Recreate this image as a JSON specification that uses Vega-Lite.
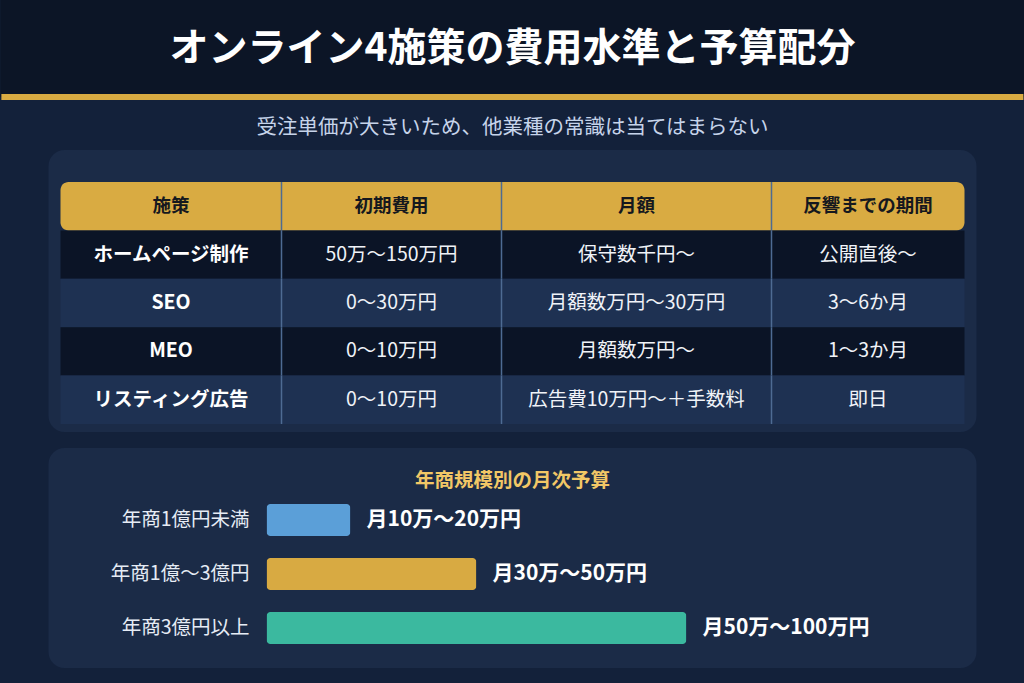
{
  "$schema": "https://vega.github.io/schema/vega-lite/v6.json",
  "background": "#13213a",
  "padding": {"left": 0, "top": 0, "right": 0, "bottom": 15},
  "spacing": 16,
  "center": true,
  "config": {
    "font": "Noto Sans CJK JP",
    "view": {"stroke": null}
  },
  "datasets": {
    "measures": [
      {"r": 0, "c": 0, "t": "施策"},
      {"r": 0, "c": 1, "t": "初期費用"},
      {"r": 0, "c": 2, "t": "月額"},
      {"r": 0, "c": 3, "t": "反響までの期間"},
      {"r": 1, "c": 0, "t": "ホームページ制作"},
      {"r": 1, "c": 1, "t": "50万〜150万円"},
      {"r": 1, "c": 2, "t": "保守数千円〜"},
      {"r": 1, "c": 3, "t": "公開直後〜"},
      {"r": 2, "c": 0, "t": "SEO"},
      {"r": 2, "c": 1, "t": "0〜30万円"},
      {"r": 2, "c": 2, "t": "月額数万円〜30万円"},
      {"r": 2, "c": 3, "t": "3〜6か月"},
      {"r": 3, "c": 0, "t": "MEO"},
      {"r": 3, "c": 1, "t": "0〜10万円"},
      {"r": 3, "c": 2, "t": "月額数万円〜"},
      {"r": 3, "c": 3, "t": "1〜3か月"},
      {"r": 4, "c": 0, "t": "リスティング広告"},
      {"r": 4, "c": 1, "t": "0〜10万円"},
      {"r": 4, "c": 2, "t": "広告費10万円〜＋手数料"},
      {"r": 4, "c": 3, "t": "即日"}
    ],
    "budgets": [
      {"tier": "年商1億円未満", "upper": 20, "label": "月10万〜20万円"},
      {"tier": "年商1億〜3億円", "upper": 50, "label": "月30万〜50万円"},
      {"tier": "年商3億円以上", "upper": 100, "label": "月50万〜100万円"}
    ]
  },
  "vconcat": [
    {
      "width": 1024,
      "height": 97,
      "view": {"fill": "#0c1526", "stroke": null},
      "title": {
        "text": "オンライン4施策の費用水準と予算配分",
        "fontSize": 39,
        "fontWeight": "bold",
        "color": "#ffffff",
        "offset": -69
      },
      "data": {"values": [{"heading": "gold line"}]},
      "mark": {
        "type": "rule",
        "color": "#d9ab42",
        "strokeWidth": 6,
        "strokeCap": "square",
        "xOffset": 4,
        "x2Offset": -4
      },
      "encoding": {
        "x": {"value": 0},
        "x2": {"value": "width"},
        "y": {"value": "height"}
      }
    },
    {
      "width": 928,
      "height": 282,
      "view": {"fill": "#1b2b47", "cornerRadius": 16, "stroke": null},
      "title": {
        "text": "受注単価が大きいため、他業種の常識は当てはまらない",
        "fontSize": 20.5,
        "fontWeight": "normal",
        "color": "#c6d4ea",
        "offset": 11.5
      },
      "data": {"name": "measures"},
      "encoding": {
        "y": {
          "field": "r",
          "type": "ordinal",
          "axis": null,
          "scale": {"range": [32, 274], "paddingInner": 0, "paddingOuter": 0}
        }
      },
      "layer": [
        {
          "transform": [{"filter": "datum.c === 0 && datum.r === 0"}],
          "mark": {"type": "rect", "cornerRadius": 8, "color": "#d9ab42"},
          "encoding": {
            "x": {
              "datum": -0.5,
              "type": "quantitative",
              "axis": null,
              "scale": {
                "domain": [-0.5, 0.5, 1.5, 2.5, 3.5],
                "range": [12, 233, 453, 723, 916],
                "nice": false,
                "zero": false
              }
            },
            "x2": {"datum": 3.5}
          }
        },
        {
          "transform": [{"filter": "datum.c === 0 && datum.r > 0"}],
          "mark": {"type": "rect"},
          "encoding": {
            "x": {"datum": -0.5, "type": "quantitative"},
            "x2": {"datum": 3.5},
            "color": {
              "condition": {"test": "datum.r % 2 === 1", "value": "#0b1426"},
              "value": "#1e3152"
            }
          }
        },
        {
          "transform": [{"filter": "datum.c === 0"}],
          "mark": {"type": "rect", "filled": false, "color": "#4e6b93", "strokeWidth": 1.5},
          "encoding": {
            "x": {"datum": 0.5, "type": "quantitative"},
            "x2": {"datum": 0.5}
          }
        },
        {
          "transform": [{"filter": "datum.c === 0"}],
          "mark": {"type": "rect", "filled": false, "color": "#4e6b93", "strokeWidth": 1.5},
          "encoding": {
            "x": {"datum": 1.5, "type": "quantitative"},
            "x2": {"datum": 1.5}
          }
        },
        {
          "transform": [{"filter": "datum.c === 0"}],
          "mark": {"type": "rect", "filled": false, "color": "#4e6b93", "strokeWidth": 1.5},
          "encoding": {
            "x": {"datum": 2.5, "type": "quantitative"},
            "x2": {"datum": 2.5}
          }
        },
        {
          "transform": [{"filter": "datum.r === 0"}],
          "mark": {"type": "text", "fontSize": 18.5, "fontWeight": "bold", "color": "#15181e"},
          "encoding": {
            "x": {"field": "c", "type": "quantitative"},
            "text": {"field": "t"}
          }
        },
        {
          "transform": [{"filter": "datum.r > 0 && datum.c === 0"}],
          "mark": {"type": "text", "fontSize": 19.5, "fontWeight": "bold", "color": "#ffffff"},
          "encoding": {
            "x": {"field": "c", "type": "quantitative"},
            "text": {"field": "t"}
          }
        },
        {
          "transform": [{"filter": "datum.r > 0 && datum.c > 0"}],
          "mark": {"type": "text", "fontSize": 19.5, "color": "#f0f3f8"},
          "encoding": {
            "x": {"field": "c", "type": "quantitative"},
            "text": {"field": "t"}
          }
        }
      ]
    },
    {
      "width": 928,
      "height": 220,
      "view": {"fill": "#1b2b47", "cornerRadius": 16, "stroke": null},
      "title": {
        "text": "年商規模別の月次予算",
        "fontSize": 19.5,
        "fontWeight": "bold",
        "color": "#f2c766",
        "offset": -43
      },
      "data": {"name": "budgets"},
      "encoding": {
        "y": {
          "field": "tier",
          "type": "nominal",
          "sort": null,
          "axis": null,
          "scale": {"range": [45, 207], "paddingInner": 0.41, "paddingOuter": 0.205}
        }
      },
      "layer": [
        {
          "mark": {"type": "bar", "cornerRadius": 4},
          "encoding": {
            "x": {
              "field": "upper",
              "type": "quantitative",
              "axis": null,
              "scale": {"domain": [0, 100], "range": [218, 638], "nice": false}
            },
            "color": {
              "field": "tier",
              "type": "nominal",
              "sort": null,
              "legend": null,
              "scale": {"range": ["#5b9fd8", "#d8aa42", "#3bb99f"]}
            }
          }
        },
        {
          "mark": {"type": "text", "align": "right", "dx": -17, "fontSize": 19.5, "color": "#e6ecf5"},
          "encoding": {
            "x": {"datum": 0, "type": "quantitative"},
            "text": {"field": "tier"}
          }
        },
        {
          "mark": {"type": "text", "align": "left", "dx": 16, "fontSize": 21, "fontWeight": "bold", "color": "#ffffff"},
          "encoding": {
            "x": {"field": "upper", "type": "quantitative"},
            "text": {"field": "label"}
          }
        }
      ]
    }
  ]
}
